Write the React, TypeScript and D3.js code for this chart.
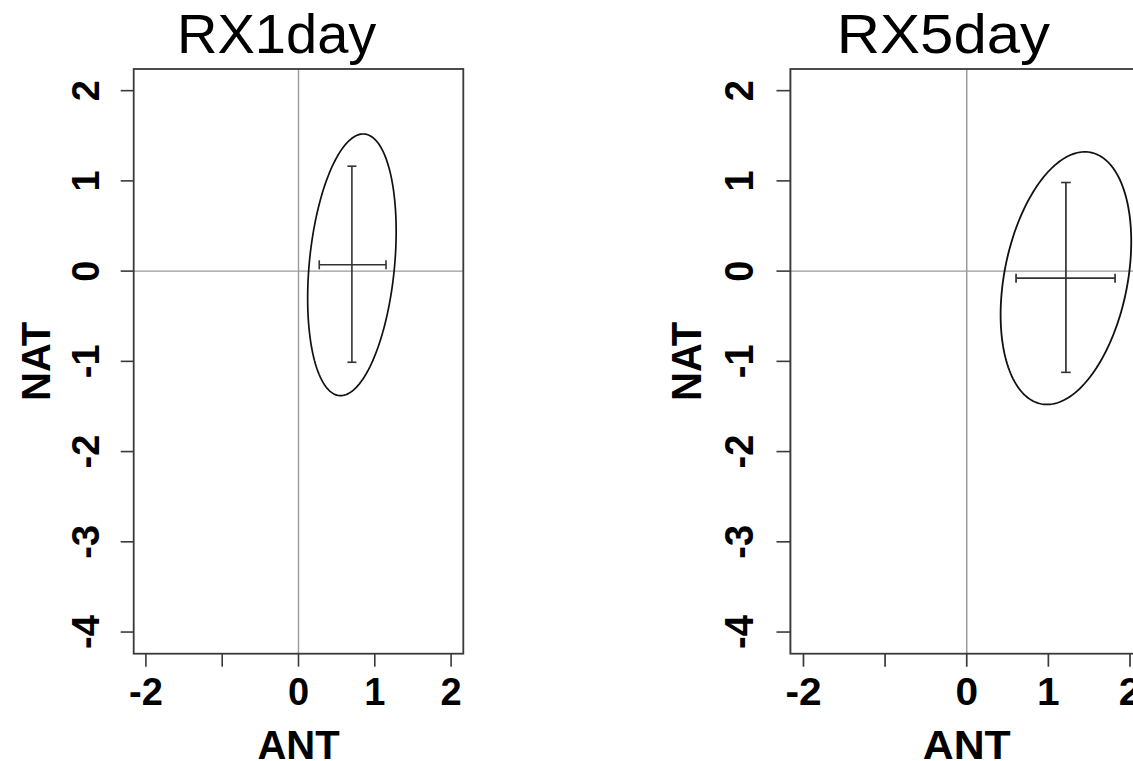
import React from "react";
import * as d3 from "d3";

// Detection/attribution scaling factors: ANT vs NAT, one panel per index
const PANEL_TITLES = ["RX1day", "RX5day"];
const ANT_BEST = [0.7, 1.215];
const NAT_BEST = [0.07, -0.078];
const ANT_CI_LOW = [0.272, 0.604];
const ANT_CI_HIGH = [1.147, 1.817];
const NAT_CI_LOW = [-1.01, -1.122];
const NAT_CI_HIGH = [1.163, 0.982];
// joint confidence region (semi-axes along ANT / NAT and their correlation)
const ELLIPSE_SD_ANT = [0.58, 0.8];
const ELLIPSE_SD_NAT = [1.45, 1.4];
const ELLIPSE_CORR = [0.255, 0.29];

const X_TICKS = [-2, -1, 0, 1, 2];
const X_TICK_LABELS = ["-2", "", "0", "1", "2"];
const Y_TICKS = [2, 1, 0, -1, -2, -3, -4];
const Y_TICK_LABELS = ["2", "1", "0", "-1", "-2", "-3", "-4"];

const X_DOMAIN: [number, number] = [-2.16, 2.16];
const Y_DOMAIN: [number, number] = [-4.24, 2.24];

const W = 1133;
const H = 761;
const PLOT_W = 329.6;
const TOP = 69;
const BOTTOM = 653.7;
const PANEL_LEFT = [133.7, 790.4];
const PANEL_STRETCH = [1, 1.07];

const FONT = "'Liberation Sans', Arial, Helvetica, sans-serif";

function Panel({ i }: { i: number }) {
  const x = d3.scaleLinear().domain(X_DOMAIN).range([0, PLOT_W]);
  const y = d3.scaleLinear().domain(Y_DOMAIN).range([BOTTOM, TOP]);

  const cx = ANT_BEST[i];
  const cy = NAT_BEST[i];
  const sx = ELLIPSE_SD_ANT[i];
  const sy = ELLIPSE_SD_NAT[i];
  const r = ELLIPSE_CORR[i];
  const s = Math.sqrt(1 - r * r);
  const angles = d3.range(0, 361, 2).map((d) => (d * Math.PI) / 180);
  const ellipse = d3
    .line<number>()
    .x((t) => x(cx + sx * Math.cos(t)))
    .y((t) => y(cy + sy * (r * Math.cos(t) + s * Math.sin(t))))
    .curve(d3.curveLinearClosed)(angles);

  const cap = 4.5;
  const tick = 13;
  const frame = "#3a3a3a";

  return (
    <g transform={`translate(${PANEL_LEFT[i]},0) scale(${PANEL_STRETCH[i]},1)`}>
      <text
        x={143}
        y={53.3}
        textAnchor="middle"
        fontFamily={FONT}
        fontSize={56}
        fill="#000"
      >
        {PANEL_TITLES[i]}
      </text>

      {/* reference lines at zero */}
      <line x1={x(0)} x2={x(0)} y1={TOP} y2={BOTTOM} stroke="#9a9a9a" strokeWidth={1.4} />
      <line x1={0} x2={PLOT_W} y1={y(0)} y2={y(0)} stroke="#9a9a9a" strokeWidth={1.4} />

      {/* confidence ellipse */}
      <path d={ellipse ?? ""} fill="none" stroke="#111" strokeWidth={1.7} />

      {/* marginal confidence intervals */}
      <g stroke="#333" strokeWidth={1.6} fill="none">
        <line x1={x(ANT_CI_LOW[i])} x2={x(ANT_CI_HIGH[i])} y1={y(cy)} y2={y(cy)} />
        <line x1={x(ANT_CI_LOW[i])} x2={x(ANT_CI_LOW[i])} y1={y(cy) - cap} y2={y(cy) + cap} />
        <line x1={x(ANT_CI_HIGH[i])} x2={x(ANT_CI_HIGH[i])} y1={y(cy) - cap} y2={y(cy) + cap} />
        <line x1={x(cx)} x2={x(cx)} y1={y(NAT_CI_LOW[i])} y2={y(NAT_CI_HIGH[i])} />
        <line x1={x(cx) - cap} x2={x(cx) + cap} y1={y(NAT_CI_LOW[i])} y2={y(NAT_CI_LOW[i])} />
        <line x1={x(cx) - cap} x2={x(cx) + cap} y1={y(NAT_CI_HIGH[i])} y2={y(NAT_CI_HIGH[i])} />
      </g>

      {/* plot frame */}
      <rect x={0} y={TOP} width={PLOT_W} height={BOTTOM - TOP} fill="none" stroke={frame} strokeWidth={1.8} />

      {/* x axis */}
      {X_TICKS.map((v, k) => (
        <g key={`x${k}`}>
          <line x1={x(v)} x2={x(v)} y1={BOTTOM} y2={BOTTOM + tick} stroke={frame} strokeWidth={1.6} />
          <text
            x={x(v)}
            y={705}
            textAnchor="middle"
            fontFamily={FONT}
            fontWeight="bold"
            fontSize={38}
            fill="#000"
          >
            {X_TICK_LABELS[k]}
          </text>
        </g>
      ))}
      <text
        x={x(0)}
        y={759}
        textAnchor="middle"
        fontFamily={FONT}
        fontWeight="bold"
        fontSize={40}
        fill="#000"
      >
        ANT
      </text>

      {/* y axis */}
      {Y_TICKS.map((v, k) => (
        <g key={`y${k}`}>
          <line x1={-tick} x2={0} y1={y(v)} y2={y(v)} stroke={frame} strokeWidth={1.6} />
          <text
            transform={`translate(${-35},${y(v)}) rotate(-90)`}
            textAnchor="middle"
            fontFamily={FONT}
            fontWeight="bold"
            fontSize={38}
            fill="#000"
          >
            {Y_TICK_LABELS[k]}
          </text>
        </g>
      ))}
      <text
        transform={`translate(${-84},${(TOP + BOTTOM) / 2}) rotate(-90)`}
        textAnchor="middle"
        fontFamily={FONT}
        fontWeight="bold"
        fontSize={40}
        fill="#000"
      >
        NAT
      </text>
    </g>
  );
}

export default function App() {
  return (
    <svg
      width={W}
      height={H}
      viewBox={`0 0 ${W} ${H}`}
      style={{ position: "absolute", left: 0, top: 0, background: "#fff" }}
    >
      <rect x={0} y={0} width={W} height={H} fill="#fff" />
      {PANEL_TITLES.map((_, i) => (
        <Panel key={i} i={i} />
      ))}
    </svg>
  );
}
